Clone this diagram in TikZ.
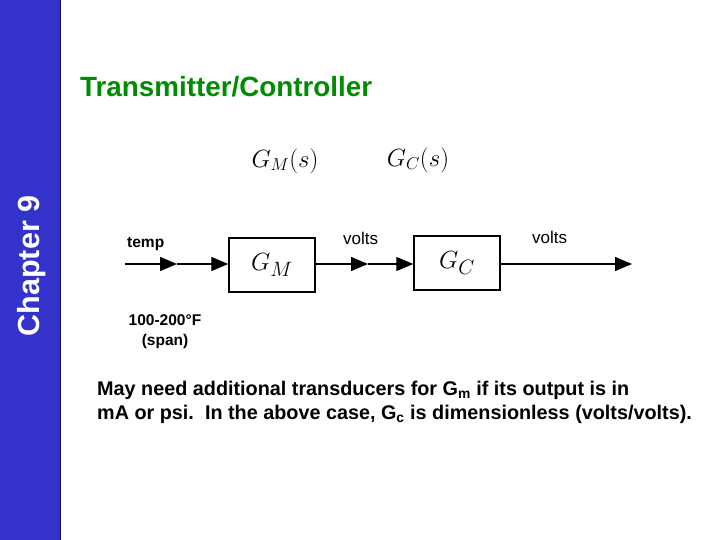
\documentclass[tikz,border=0pt]{standalone}
\usepackage{fontspec}
\setmainfont{Liberation Sans}
\usetikzlibrary{arrows.meta}
\definecolor{barblue}{RGB}{51,51,204}
\definecolor{bardark}{RGB}{20,20,90}
\definecolor{titlegreen}{RGB}{0,140,0}
\tikzset{
  blk/.style={draw=black, line width=1.4pt, minimum width=86pt, minimum height=54pt, inner sep=0pt},
  sig/.style={line width=1.3pt, -{Triangle[length=17pt,width=14pt]}},
  lbl/.style={font=\fontsize{17}{19}\selectfont, inner sep=0pt},
  blbl/.style={font=\fontsize{15.5}{20}\selectfont\bfseries, inner sep=0pt, align=center},
  tf/.style={font=\fontsize{25}{28}\selectfont, inner sep=0pt},
  tfb/.style={font=\fontsize{28}{30}\selectfont, inner sep=0pt},
}
\begin{document}
\begin{tikzpicture}[x=1pt,y=-1pt]
\useasboundingbox (0,0) rectangle (720,540);
\fill[white] (0,0) rectangle (720,540);
\fill[barblue] (0,0) rectangle (60,540);
\draw[bardark, line width=1pt] (60,0) -- (60,540);
\node[rotate=90, text=white, font=\fontsize{30.5}{34}\selectfont\bfseries, inner sep=0pt] (chap) at (32,266) {Chapter 9};
\node[anchor=west, text=titlegreen, font=\fontsize{27.8}{32}\selectfont\bfseries, inner sep=0pt] (title) at (80,87) {Transmitter/Controller};
% transfer function labels
\node[tf] (gms) at (285,161) {$G_M(s)$};
\node[tf] (gcs) at (418,160) {$G_C(s)$};
% blocks
\node[blk] (gm) at (272,265) {};
\node[tfb] at (gm.center) {$G_M$};
\node[blk] (gc) at (457,263) {};
\node[tfb] at (gc.center) {$G_C$};
% coordinates
\coordinate (in) at (125,264);
\coordinate (a1) at (177,264);
\coordinate (a2) at (368,264);
\coordinate (out) at (632,264);
\draw[sig] (in) -- (a1);
\draw[sig] (a1) -- (gm.west |- a1);
\draw[sig] (gm.east |- a2) -- (a2);
\draw[sig] (a2) -- (gc.west |- a2);
\draw[sig] (gc.east |- out) -- (out);
% labels
\node[blbl, anchor=west] (temp) at (127,244) {temp};
\node[lbl, anchor=west] (v1) at (343,238) {volts};
\node[lbl, anchor=west] (v2) at (532,237) {volts};
\node[blbl, anchor=north] (span) at (165,314) {100-200\textdegree F\\(span)};
% bottom text
\node[anchor=north west, inner sep=0pt, align=left, font=\fontsize{19.8}{24}\selectfont\bfseries] (note) at (97,381)
  {May need additional transducers for G\textsubscript{m} if its output is in\\
   mA or psi.\ \ In the above case, G\textsubscript{c} is dimensionless (volts/volts).};
\end{tikzpicture}
\end{document}
